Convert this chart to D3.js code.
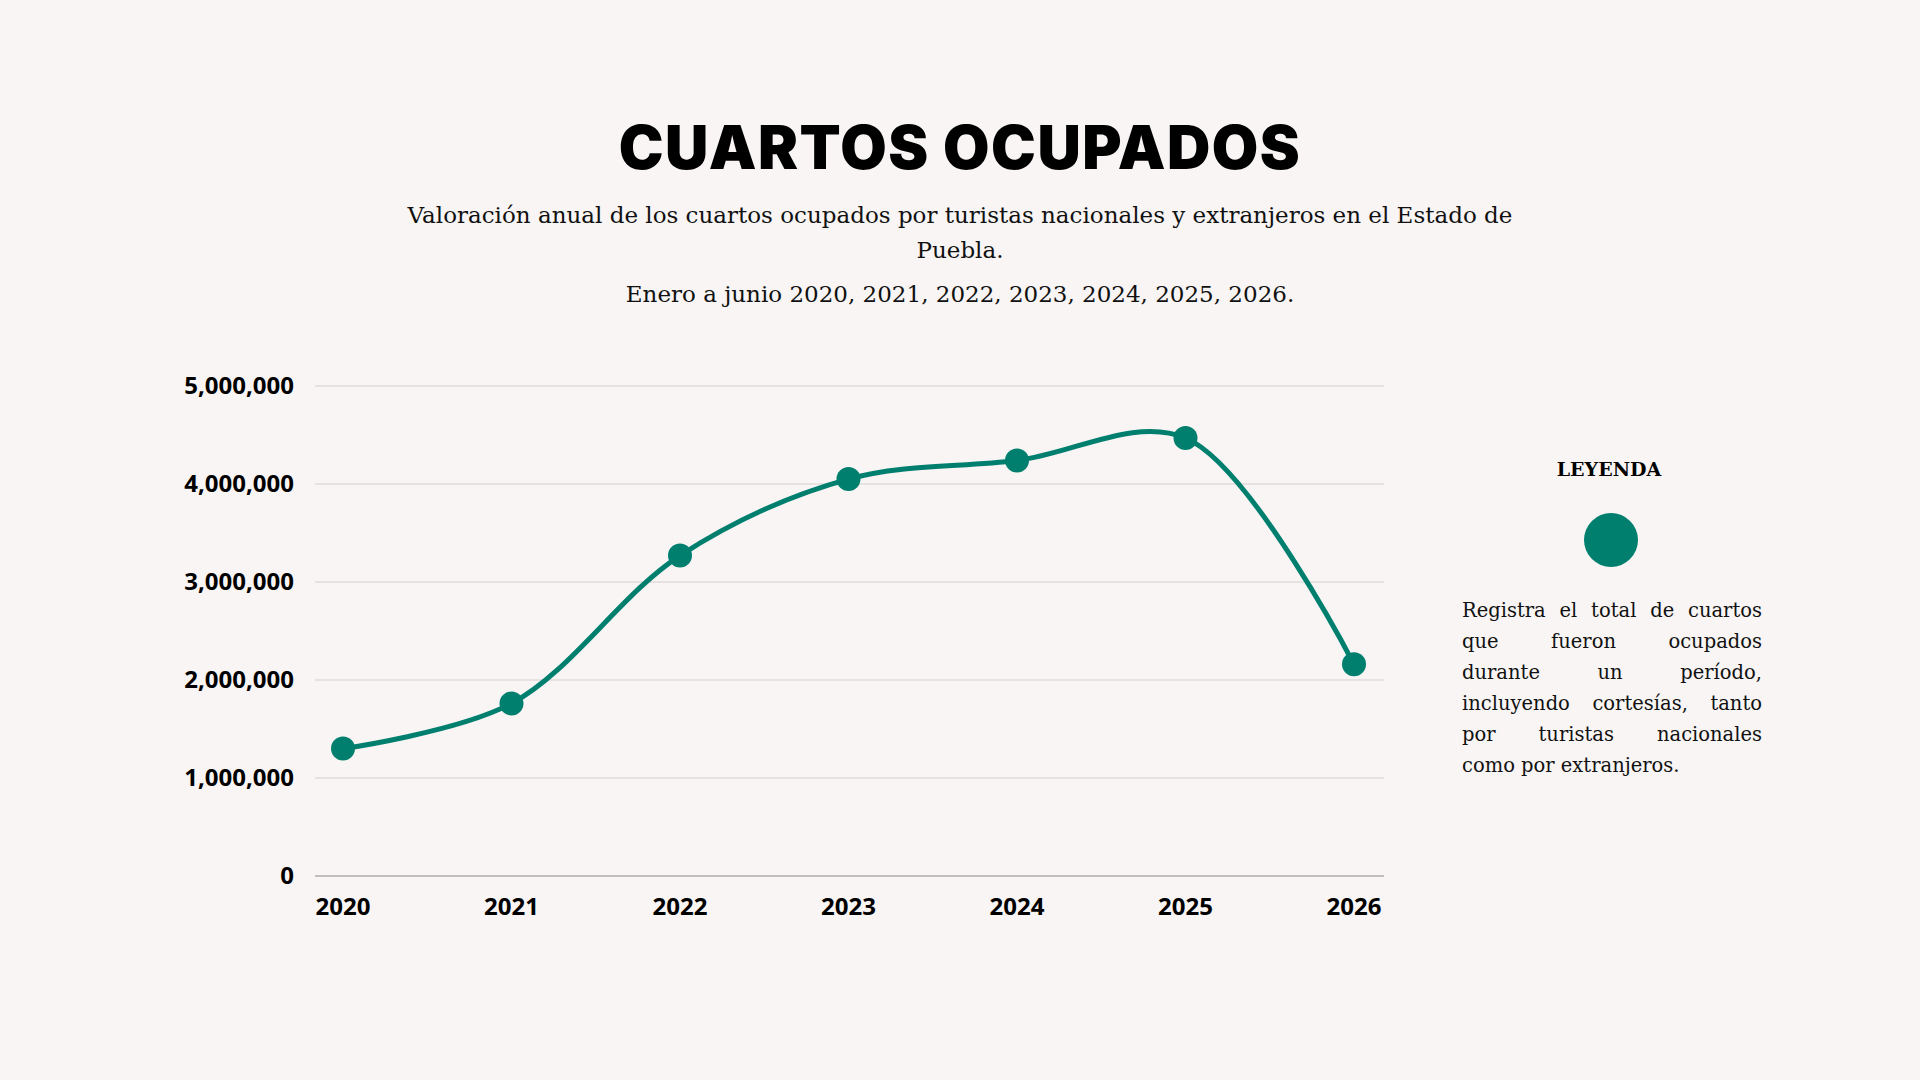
<!DOCTYPE html>
<html><head><meta charset="utf-8">
<script src="https://cdn.jsdelivr.net/npm/d3@7"></script>
<style>
body{margin:0;background:#f8f5f4;}
#legendText{position:absolute;left:1462px;top:595px;width:300px;font-family:"DejaVu Serif",serif;font-size:19.5px;line-height:31px;color:#111;}
#legendText div{text-align:justify;text-align-last:justify;white-space:nowrap;}
#legendText div:last-child{text-align-last:left;}
</style></head>
<body>
<svg id="chart" width="1920" height="1080"></svg>
<div id="legendText"></div>
<script>
const years = ["2020","2021","2022","2023","2024","2025","2026"];
const rooms = [1300000, 1760000, 3270000, 4050000, 4240000, 4470000, 2160000];
const yTicks = [0, 1000000, 2000000, 3000000, 4000000, 5000000];
const legendLines = ["Registra el total de cuartos","que fueron ocupados","durante un período,","incluyendo cortesías, tanto","por turistas nacionales","como por extranjeros."];
const COLOR = "#007f6e";

d3.select("#legendText").selectAll("div").data(legendLines).join("div").text(d=>d);

const svg = d3.select("#chart");
svg.append("rect").attr("width",1920).attr("height",1080).attr("fill","#f8f5f4");

svg.append("text").attr("x",960).attr("y",169).attr("text-anchor","middle")
  .attr("font-family","Inter, sans-serif").attr("font-weight",900).attr("font-size",60)
  .attr("letter-spacing",1.5).text("CUARTOS OCUPADOS");
const sub = ["Valoración anual de los cuartos ocupados por turistas nacionales y extranjeros en el Estado de","Puebla.","Enero a junio 2020, 2021, 2022, 2023, 2024, 2025, 2026."];
[223,258,302].forEach((y,i)=>{
  svg.append("text").attr("x",960).attr("y",y).attr("text-anchor","middle")
    .attr("font-family","DejaVu Serif, serif").attr("font-size",23).attr("fill","#111").text(sub[i]);
});

const x = d3.scalePoint().domain(years).range([343,1354]);
const y = d3.scaleLinear().domain([0,5000000]).range([876,386]);

svg.append("g").selectAll("line").data(yTicks).join("line")
  .attr("x1",315).attr("x2",1384).attr("y1",d=>y(d)).attr("y2",d=>y(d))
  .attr("stroke",d=>d===0?"#888":"#d4d0ce").attr("stroke-width",1.2);

svg.append("g").selectAll("text").data(yTicks).join("text")
  .attr("x",294).attr("y",d=>y(d)+8).attr("text-anchor","end")
  .attr("font-family","Open Sans, sans-serif").attr("font-weight",700).attr("font-size",24)
  .text(d=>d3.format(",")(d));

svg.append("g").selectAll("text").data(years).join("text")
  .attr("x",d=>x(d)).attr("y",915).attr("text-anchor","middle")
  .attr("font-family","Open Sans, sans-serif").attr("font-weight",700).attr("font-size",24)
  .text(d=>d);

const line = d3.line().x((d,i)=>x(years[i])).y(d=>y(d)).curve(d3.curveCatmullRom.alpha(0.5));
svg.append("path").datum(rooms).attr("d",line).attr("fill","none")
  .attr("stroke",COLOR).attr("stroke-width",5);
svg.append("g").selectAll("circle").data(rooms).join("circle")
  .attr("cx",(d,i)=>x(years[i])).attr("cy",d=>y(d)).attr("r",12).attr("fill",COLOR);

svg.append("text").attr("x",1609).attr("y",476).attr("text-anchor","middle")
  .attr("font-family","DejaVu Serif, serif").attr("font-weight",700).attr("font-size",19).text("LEYENDA");
svg.append("circle").attr("cx",1611).attr("cy",540).attr("r",27).attr("fill",COLOR);
</script>
</body></html>
